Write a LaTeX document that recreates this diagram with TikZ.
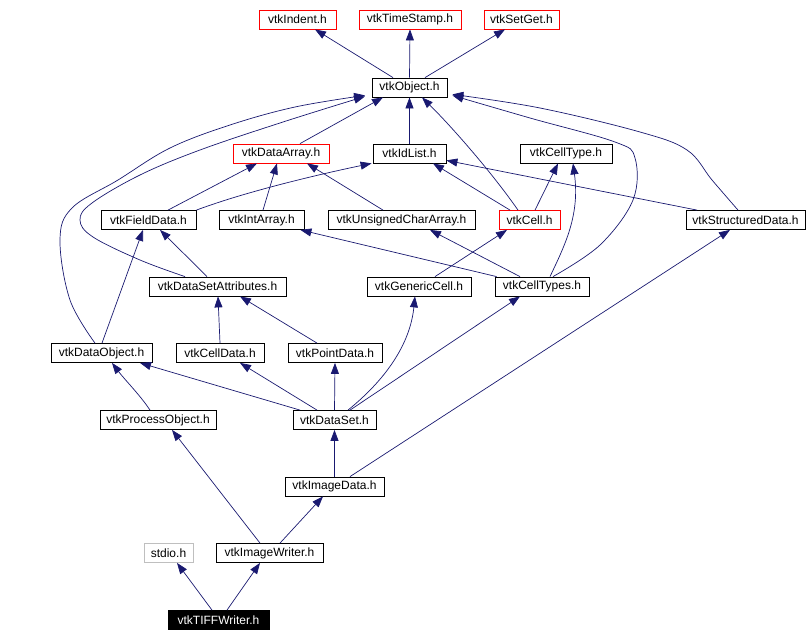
\documentclass[tikz,border=0pt]{standalone}
\usepackage{fontspec}
\setmainfont{Liberation Sans}
\usetikzlibrary{arrows.meta}
\definecolor{edgecol}{HTML}{191970}
\definecolor{redline}{HTML}{FF0000}
\definecolor{grayline}{HTML}{BFBFBF}
\begin{document}
\begin{tikzpicture}[x=1pt,y=-1pt,
  box/.style={draw=black, line width=0.8pt, inner sep=0pt, minimum height=19pt, font=\fontsize{12}{12}\selectfont, anchor=center},
  redbox/.style={box, draw=redline},
  graybox/.style={box, draw=grayline},
  mainbox/.style={box, fill=black, text=white},
  dep/.style={draw=edgecol, line width=0.7pt, -{Triangle[length=11pt,width=8pt]}, fill=none}
]
\useasboundingbox (0,0) rectangle (808,642);
% row 0
\node[redbox, minimum width=77pt] (indent) at (297.5,19.5) {vtkIndent.h};
\node[redbox, minimum width=102pt] (timestamp) at (410,19.5) {vtkTimeStamp.h};
\node[redbox, minimum width=75pt] (setget) at (521.5,19.5) {vtkSetGet.h};
% row 1
\node[box, minimum width=75pt] (object) at (409.5,87.5) {vtkObject.h};
% row 2
\node[redbox, minimum width=96pt] (dataarray) at (281,153.5) {vtkDataArray.h};
\node[box, minimum width=73pt] (idlist) at (409.5,153.5) {vtkIdList.h};
\node[box, minimum width=92pt] (celltype) at (566,153.5) {vtkCellType.h};
% row 3
\node[box, minimum width=95pt] (fielddata) at (148.5,220) {vtkFieldData.h};
\node[box, minimum width=85pt] (intarray) at (261.5,220) {vtkIntArray.h};
\node[box, minimum width=147pt] (uchar) at (401.5,220) {vtkUnsignedCharArray.h};
\node[redbox, minimum width=61pt] (cell) at (529.5,220) {vtkCell.h};
\node[box, minimum width=119pt] (structured) at (745.5,220) {vtkStructuredData.h};
% row 4
\node[box, minimum width=137pt] (dsattr) at (217.5,286.5) {vtkDataSetAttributes.h};
\node[box, minimum width=104pt] (genericcell) at (419,286.5) {vtkGenericCell.h};
\node[box, minimum width=94pt] (celltypes) at (542,286.5) {vtkCellTypes.h};
% row 5
\node[box, minimum width=101pt] (dataobject) at (101.5,353) {vtkDataObject.h};
\node[box, minimum width=88pt] (celldata) at (220,353) {vtkCellData.h};
\node[box, minimum width=94pt] (pointdata) at (335,353) {vtkPointData.h};
% row 6
\node[box, minimum width=116pt] (processobject) at (158,420) {vtkProcessObject.h};
\node[box, minimum width=83pt] (dataset) at (334.5,420) {vtkDataSet.h};
% row 7
\node[box, minimum width=99pt] (imagedata) at (334.5,486.5) {vtkImageData.h};
% row 8
\node[graybox, minimum width=49pt] (stdio) at (168.5,553) {stdio.h};
\node[box, minimum width=107pt] (imagewriter) at (269.5,553) {vtkImageWriter.h};
% row 9
\node[mainbox, minimum width=101pt] (tiff) at (218.5,620) {vtkTIFFWriter.h};

% edges
\draw[dep] ([xshift=-16.5pt]object.north) -- ([xshift=17.5pt]indent.south);
\draw[dep] (object.north) -- (timestamp.south);
\draw[dep] ([xshift=15.5pt]object.north) -- ([xshift=-16.5pt]setget.south);
\draw[dep] ([xshift=19pt]dataarray.north) -- ([xshift=-26.5pt]object.south);
\draw[dep] (idlist.north) -- (object.south);
\draw[dep] ([xshift=-11.5pt]cell.north) .. controls (490,170) and (450,125) .. ([xshift=12.5pt]object.south);
\draw[dep] plot[smooth, tension=0.6] coordinates {([xshift=11pt]celltypes.north) (600,245) (633,200) (635,158) (615,142) (530,118) ([xshift=5pt,yshift=2pt]object.south east)};
\draw[dep] plot[smooth, tension=0.6] coordinates {([xshift=-7.5pt]structured.north) (712,180) (687,150) (640,132) (540,108) ([xshift=5pt,yshift=3pt]object.south east)};
\draw[dep] plot[smooth, tension=0.6] coordinates {([xshift=-6.5pt]dataobject.north) (70,300) (60,240) (72,208) (118,180) (170,148) (230,125) (295,107) ([xshift=-44.5pt,yshift=2pt]object.south)};
\draw[dep] plot[smooth, tension=0.6] coordinates {([xshift=-32.5pt]dsattr.north) (140,260) (93,237) (80,220) (92,203) (140,175) (200,150) (283,122) ([xshift=-44.5pt,yshift=1pt]object.south)};
\draw[dep] ([xshift=19.5pt]fielddata.north) -- ([xshift=-24pt]dataarray.south);
\draw[dep] (fielddata.north east) .. controls (250,190) and (330,172) .. ([xshift=-1pt]idlist.south west);
\draw[dep] ([xshift=1.5pt]intarray.north) -- ([xshift=-4pt]dataarray.south);
\draw[dep] ([xshift=-18.5pt]uchar.north) -- ([xshift=26pt]dataarray.south);
\draw[dep] ([xshift=-19.5pt]cell.north) -- ([xshift=23.5pt]idlist.south);
\draw[dep] ([xshift=5.5pt]cell.north) -- ([xshift=-8pt]celltype.south);
\draw[dep] ([xshift=-48.5pt]structured.north) -- ([yshift=3pt]idlist.south east);
\draw[dep] ([xshift=8pt]celltypes.north) .. controls (565,245) and (580,215) .. ([xshift=7pt]celltype.south);
\draw[dep] ([xshift=2pt]celltypes.north west) -- ([xshift=-4pt]intarray.south east);
\draw[dep] ([xshift=-22pt]celltypes.north) -- ([xshift=28.5pt]uchar.south);
\draw[dep] ([xshift=16pt]genericcell.north) -- ([xshift=-22.5pt]cell.south);
\draw[dep] (celldata.north) -- ([xshift=0.5pt]dsattr.south);
\draw[dep] ([xshift=-18pt]pointdata.north) -- ([xshift=22.5pt]dsattr.south);
\draw[dep] ([xshift=0.5pt]dataobject.north) -- ([xshift=-5.5pt]fielddata.south);
\draw[dep] ([xshift=-10.5pt]dsattr.north) -- ([xshift=11.5pt]fielddata.south);
\draw[dep] ([xshift=-34.5pt]dataset.north) -- ([xshift=38.5pt]dataobject.south);
\draw[dep] ([xshift=-17.5pt]dataset.north) -- ([xshift=20pt]celldata.south);
\draw[dep] (dataset.north) -- (pointdata.south);
\draw[dep] ([xshift=13.5pt]dataset.north) .. controls (385,380) and (410,345) .. ([xshift=-4pt]genericcell.south);
\draw[dep] ([xshift=15.5pt]dataset.north) -- ([xshift=-22pt]celltypes.south);
\draw[dep] ([xshift=-8pt]processobject.north) .. controls (140,395) and (125,380) .. ([xshift=10.5pt]dataobject.south);
\draw[dep] (imagedata.north) -- (dataset.south);
\draw[dep] ([xshift=15.5pt]imagedata.north) -- ([xshift=-15.5pt]structured.south);
\draw[dep] ([xshift=-9.5pt]imagewriter.north) -- ([xshift=14pt]processobject.south);
\draw[dep] ([xshift=10.5pt]imagewriter.north) -- ([xshift=-11.5pt]imagedata.south);
\draw[dep] ([xshift=-6.5pt]tiff.north) -- ([xshift=8.5pt]stdio.south);
\draw[dep] ([xshift=8.5pt]tiff.north) -- ([xshift=-9.5pt]imagewriter.south);
\end{tikzpicture}
\end{document}
